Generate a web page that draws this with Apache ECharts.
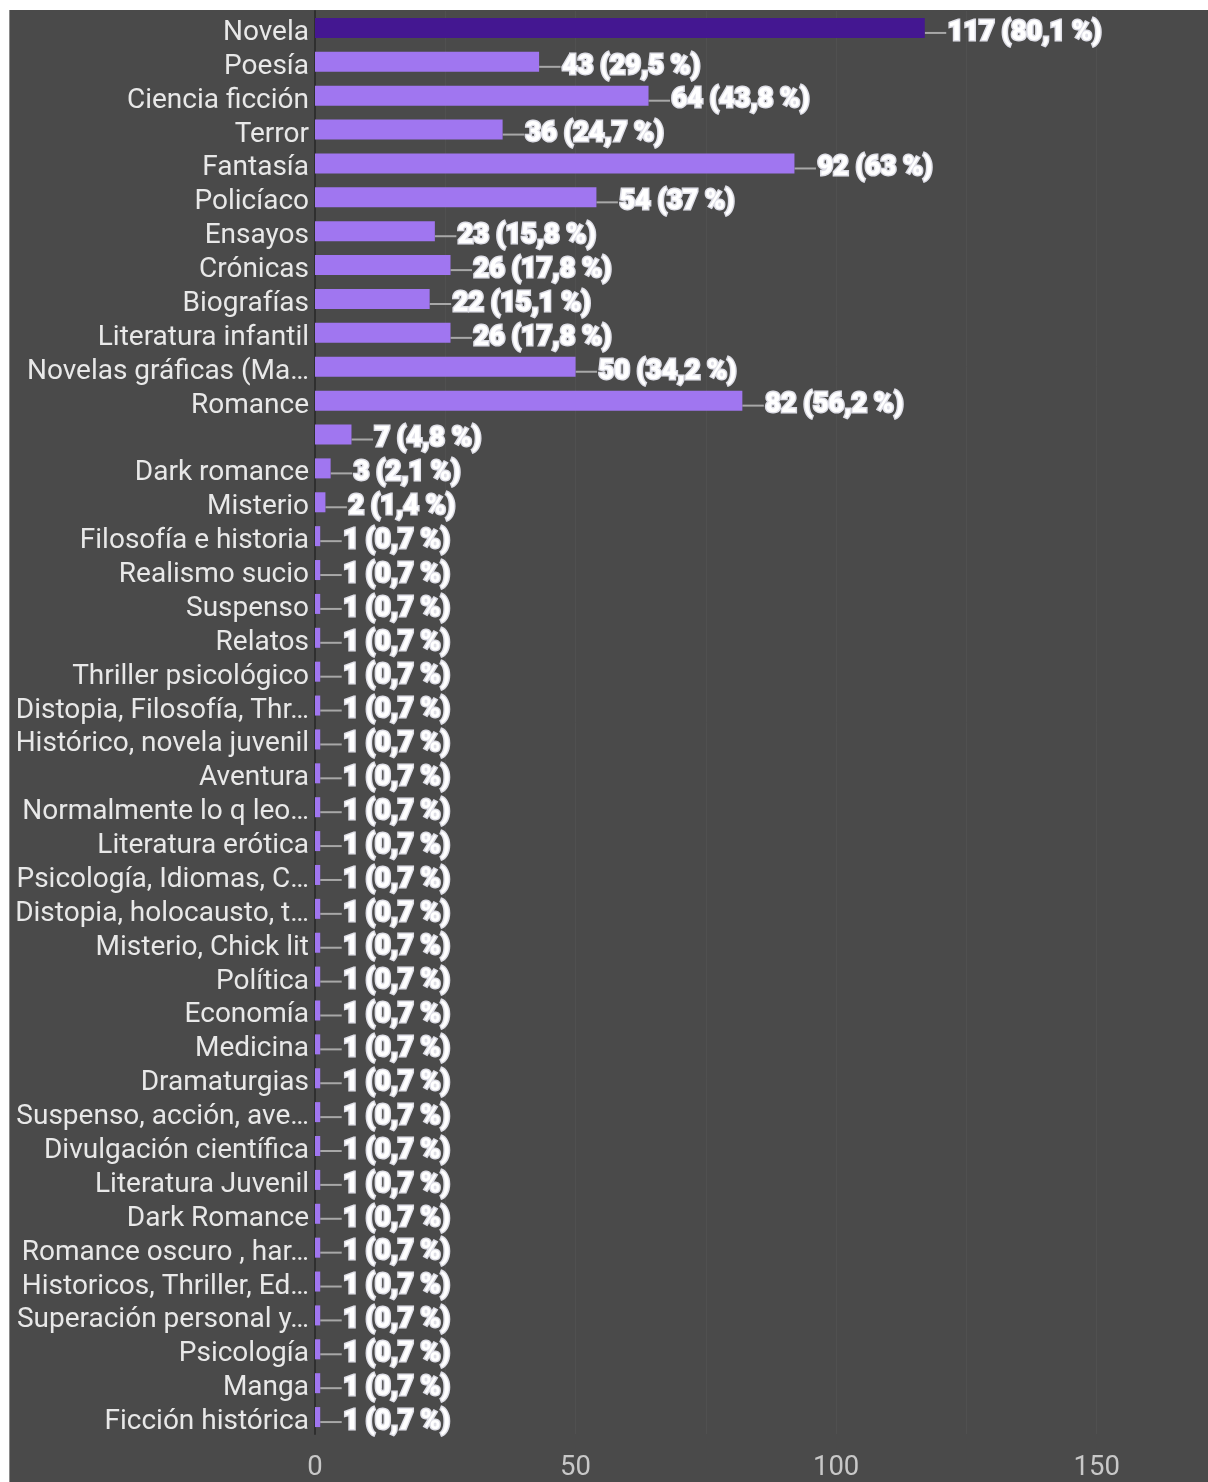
<!DOCTYPE html>
<html>
<head>
<meta charset="utf-8">
<script src="https://cdn.jsdelivr.net/npm/echarts@6/dist/echarts.min.js"></script>
<style>
html,body{margin:0;padding:0;background:#ffffff;overflow:hidden;width:1208px;height:1482px;}
#frame{position:absolute;left:9px;top:10px;width:1199px;height:1472px;overflow:hidden;background:#4a4a4a;border-left:1px solid #8a8a8a;}
#chart{position:absolute;left:0;top:0;width:1240px;height:1472px;}
</style>
</head>
<body>
<div id="frame"><div id="chart"></div></div>
<script>
const categories = [
  "Novela","Poesía","Ciencia ficción","Terror","Fantasía","Policíaco","Ensayos","Crónicas",
  "Biografías","Literatura infantil","Novelas gráficas (Ma…","Romance","","Dark romance","Misterio",
  "Filosofía e historia","Realismo sucio","Suspenso","Relatos","Thriller psicológico",
  "Distopia, Filosofía, Thr…","Histórico, novela juvenil","Aventura","Normalmente lo q leo…",
  "Literatura erótica","Psicología, Idiomas, C…","Distopia, holocausto, t…","Misterio, Chick lit",
  "Política","Economía","Medicina","Dramaturgias","Suspenso, acción, ave…","Divulgación científica",
  "Literatura Juvenil","Dark Romance","Romance oscuro , har…","Historicos, Thriller, Ed…",
  "Superación personal y…","Psicología","Manga","Ficción histórica"
];
const counts = [117,43,64,36,92,54,23,26,22,26,50,82,7,3,2,
  1,1,1,1,1,1,1,1,1,1,1,1,1,1,1,1,1,1,1,1,1,1,1,1,1,1,1];
const percents = ["80,1","29,5","43,8","24,7","63","37","15,8","17,8","15,1","17,8","34,2","56,2","4,8","2,1","1,4",
  "0,7","0,7","0,7","0,7","0,7","0,7","0,7","0,7","0,7","0,7","0,7","0,7","0,7","0,7","0,7","0,7","0,7","0,7","0,7",
  "0,7","0,7","0,7","0,7","0,7","0,7","0,7","0,7"];
const xTicks = {min:0, max:175, interval:25};

const chart = echarts.init(document.getElementById('chart'));
chart.setOption({
  backgroundColor:'#4a4a4a',
  animation:false,
  grid:{left:305, top:1, bottom:44, width:912, containLabel:false},
  xAxis:{
    type:'value', min:xTicks.min, max:xTicks.max, interval:xTicks.interval,
    axisLine:{show:false}, axisTick:{show:false},
    axisLabel:{color:'#c8c8c8', fontSize:27.5, fontFamily:'Roboto', margin:20,
      formatter:v => (v % 50 === 0 && v < 175) ? String(v) : ''},
    splitLine:{show:true, lineStyle:{color:'#505050', width:1}}
  },
  yAxis:{
    type:'category', data:categories, inverse:true,
    axisLine:{show:true, lineStyle:{color:'#2f2f2f', width:2}},
    axisTick:{show:false},
    axisLabel:{color:'#e8e8e8', fontSize:28, fontFamily:'Roboto', margin:6, interval:0,
      verticalAlign:'top', lineHeight:10}
  },
  series:[{
    type:'bar',
    data:counts.map((v,i)=>({value:v, itemStyle:{color: i===0 ? '#441791' : '#a076f0'}})),
    barWidth:20,
    label:{
      show:true, position:'right', distance:0,
      formatter:p => p.value + ' (' + percents[p.dataIndex] + ' %)',
      color:'#ffffff', fontSize:27, fontWeight:900, fontFamily:'Roboto',
      textBorderColor:'#dedee6', textBorderWidth:3
    },
    labelLayout:{dx:23, dy:5},
    labelLine:{show:true, lineStyle:{color:'#a8a8a8', width:2}}
  }]
});
</script>
</body>
</html>
